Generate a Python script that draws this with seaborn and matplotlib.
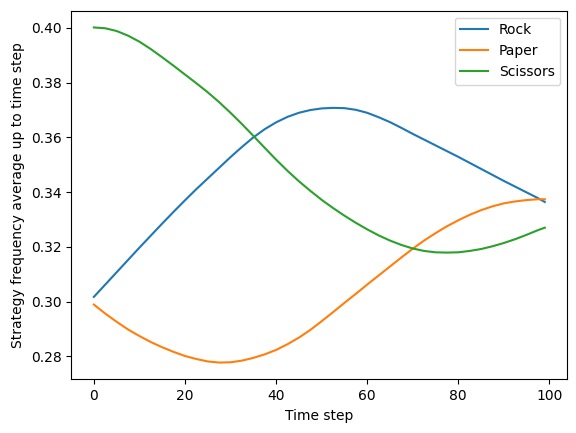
import matplotlib
matplotlib.use("Agg")
import matplotlib.pyplot as plt
import seaborn as sns

steps = [0, 2.5, 5, 7.5, 10, 12.5, 15, 17.5, 20, 22.5,
         25, 27.5, 30, 32.5, 35, 37.5, 40, 42.5, 45, 47.5,
         50, 52.5, 55, 57.5, 60, 62.5, 65, 67.5, 70, 72.5,
         75, 77.5, 80, 82.5, 85, 87.5, 90, 92.5, 95, 97.5, 99]
rock = [0.3017, 0.3062, 0.3107, 0.3152, 0.3197, 0.3241, 0.3285, 0.3328, 0.3370, 0.3411,
        0.3450, 0.3489, 0.3528, 0.3565, 0.3600, 0.3630, 0.3655, 0.3675, 0.3690, 0.3700,
        0.3706, 0.3708, 0.3707, 0.3701, 0.3690, 0.3674, 0.3656, 0.3635, 0.3613, 0.3592,
        0.3571, 0.3550, 0.3529, 0.3507, 0.3485, 0.3463, 0.3441, 0.3420, 0.3399, 0.3378, 0.3364]
paper = [0.2989, 0.2956, 0.2926, 0.2898, 0.2874, 0.2852, 0.2833, 0.2816, 0.2801, 0.2790,
         0.2781, 0.2777, 0.2778, 0.2784, 0.2794, 0.2807, 0.2823, 0.2844, 0.2868, 0.2896,
         0.2928, 0.2961, 0.2995, 0.3028, 0.3062, 0.3095, 0.3128, 0.3161, 0.3193, 0.3223,
         0.3250, 0.3275, 0.3297, 0.3317, 0.3334, 0.3348, 0.3359, 0.3366, 0.3371, 0.3374, 0.3374]
scissors = [0.4002, 0.3999, 0.3989, 0.3972, 0.3950, 0.3923, 0.3893, 0.3862, 0.3830, 0.3798,
            0.3765, 0.3729, 0.3690, 0.3649, 0.3606, 0.3562, 0.3519, 0.3478, 0.3440, 0.3405,
            0.3372, 0.3342, 0.3314, 0.3288, 0.3264, 0.3242, 0.3223, 0.3207, 0.3194, 0.3185,
            0.3180, 0.3179, 0.3180, 0.3185, 0.3192, 0.3202, 0.3214, 0.3228, 0.3244, 0.3261, 0.3270]
labels = ["Rock", "Paper", "Scissors"]
colors = ["#1f77b4", "#ff7f0e", "#2ca02c"]

fig, ax = plt.subplots(figsize=(5.76, 4.33), dpi=100)
for series, lab, col in zip([rock, paper, scissors], labels, colors):
    sns.lineplot(x=steps, y=series, label=lab, color=col, ax=ax, linewidth=1.5)

ax.set_xlabel("Time step")
ax.set_ylabel("Strategy frequency average up to time step")
ax.set_yticks([0.28, 0.30, 0.32, 0.34, 0.36, 0.38, 0.40])
ax.set_xticks([0, 20, 40, 60, 80, 100])
ax.legend(loc="upper right")
fig.subplots_adjust(left=0.1238, right=0.985, top=0.9753, bottom=0.124)
fig.savefig("out.png", dpi=100)
